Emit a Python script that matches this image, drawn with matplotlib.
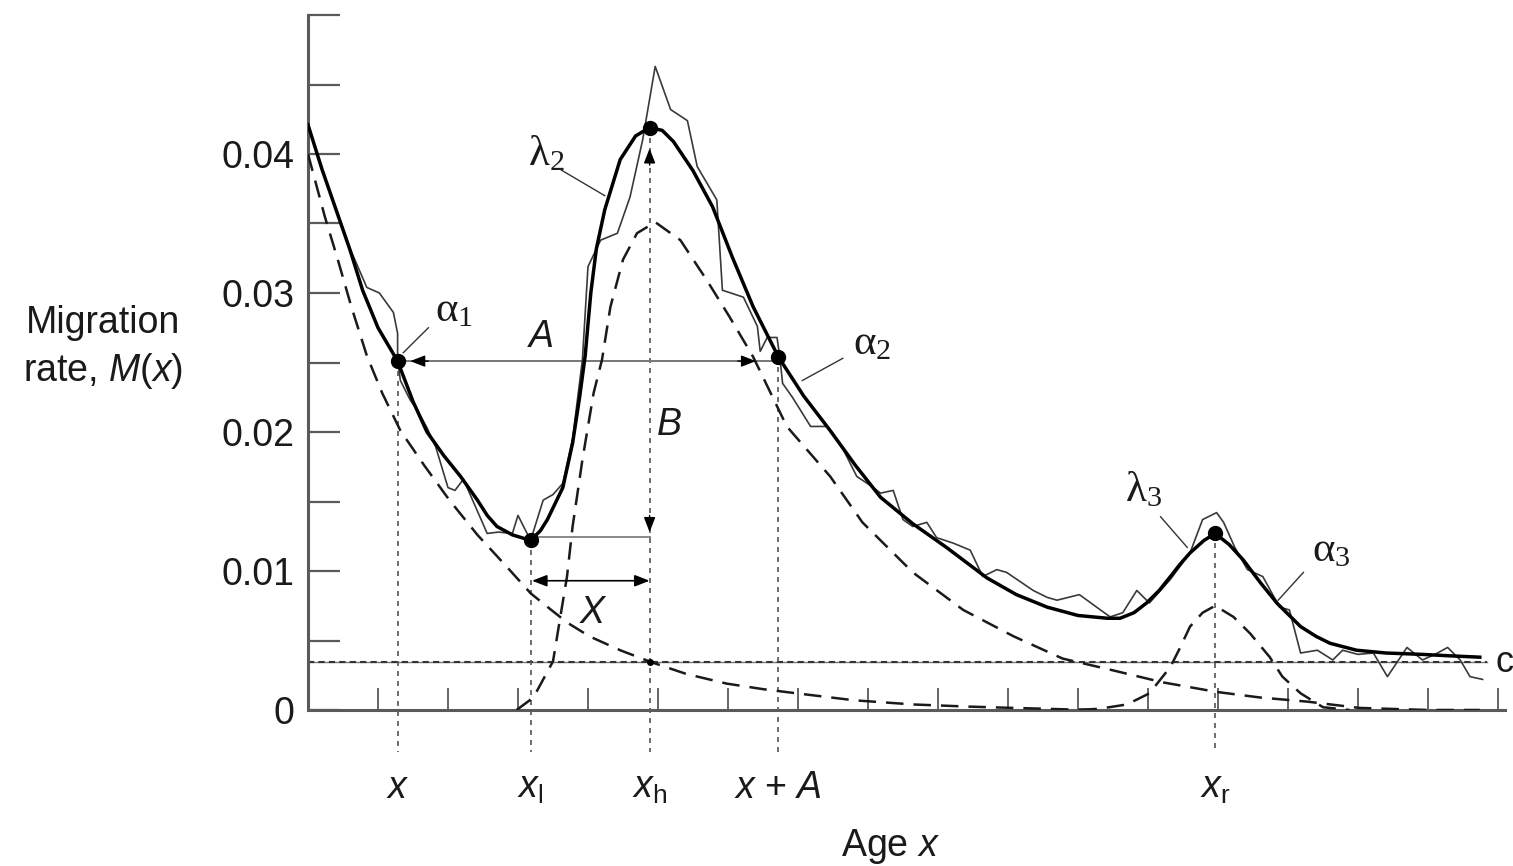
import matplotlib
matplotlib.use('Agg')
import matplotlib.pyplot as plt

plt.rcParams['font.family'] = 'Liberation Sans'
plt.rcParams['mathtext.fontset'] = 'custom'
plt.rcParams['mathtext.rm'] = 'Liberation Sans'
plt.rcParams['mathtext.it'] = 'Liberation Sans:italic'

# Fitted model schedule (thick solid line)
fit_age = [0, 1, 2, 3, 3.9, 5, 6.4, 7.5, 8.5, 9.7, 10.9, 12.1, 12.8, 13.5, 14.6,
           15.9, 16.6, 17.1, 18.2, 18.9, 19.4, 19.8, 20.2, 20.6, 21.2, 22.3, 23.4,
           24.4, 25.3, 26.1, 27.5, 28.9, 30.3, 31.8, 33.6, 35.4, 37.3, 39.1, 40.9,
           43.2, 45.6, 48.5, 50.6, 52.8, 55.0, 57.1, 58.0, 59.0, 59.9, 60.8, 61.6,
           62.3, 63.0, 64.0, 64.8, 65.8, 66.8, 68.0, 69.2, 70.9, 72.0, 73.0, 74.9,
           77.0, 79.6, 81.5, 83.7]
fit_rate = [0.0421, 0.0389, 0.0360, 0.0331, 0.0302, 0.0275, 0.0251, 0.0222, 0.0200,
            0.0183, 0.0168, 0.0151, 0.0140, 0.0132, 0.0126, 0.0122, 0.0129, 0.0137,
            0.0160, 0.0192, 0.0225, 0.0255, 0.0300, 0.0332, 0.0360, 0.0396, 0.0413,
            0.0419, 0.0417, 0.0409, 0.0388, 0.0362, 0.0326, 0.0290, 0.0254, 0.0226,
            0.0201, 0.0176, 0.0153, 0.0134, 0.0117, 0.0095, 0.0083, 0.0074, 0.0068,
            0.0066, 0.0066, 0.0070, 0.0077, 0.0086, 0.0096, 0.0105, 0.0113, 0.0122,
            0.0127, 0.0119, 0.0108, 0.0092, 0.0077, 0.0060, 0.0053, 0.0048, 0.0043,
            0.0041, 0.0040, 0.0039, 0.0038]

# Observed rates (thin jagged line)
obs_age = [0, 1, 2, 3, 4.2, 5.1, 6.1, 6.4, 6.4, 6.6, 7.3, 7.8, 8.5, 9.1, 10.0, 10.5,
           11.1, 11.8, 12.8, 13.6, 14.6, 15.0, 15.9, 16.8, 17.5, 18.2, 18.9, 19.6,
           20.0, 20.9, 22.1, 23.0, 23.9, 24.8, 25.9, 27.1, 27.8, 29.2, 29.6, 31.1,
           32.1, 32.3, 32.8, 33.5, 33.7, 33.9, 34.6, 35.9, 37.1, 38.2, 39.2, 40.1,
           40.9, 41.8, 42.5, 43.2, 44.2, 44.9, 46.1, 47.3, 48.2, 49.2, 49.9, 51.8,
           52.8, 53.5, 55.1, 56.6, 57.3, 58.2, 59.2, 60.1, 61.6, 63.0, 63.9, 64.9,
           65.4, 66.2, 67.1, 68.2, 69.4, 70.1, 70.9, 72.1, 73.2, 73.9, 75.0, 76.1,
           77.1, 78.5, 79.6, 80.5, 81.4, 82.3, 83.0, 83.9]
obs_rate = [0.0421, 0.0388, 0.0361, 0.0332, 0.0304, 0.0300, 0.0286, 0.0271, 0.0252,
            0.0237, 0.0223, 0.0216, 0.0203, 0.0190, 0.0160, 0.0158, 0.0166, 0.0150,
            0.0127, 0.0128, 0.0127, 0.0140, 0.0122, 0.0151, 0.0155, 0.0163, 0.0195,
            0.0252, 0.0319, 0.0338, 0.0343, 0.0369, 0.0410, 0.0463, 0.0432, 0.0424,
            0.0391, 0.0367, 0.0302, 0.0297, 0.0276, 0.0258, 0.0268, 0.0268, 0.0254,
            0.0235, 0.0225, 0.0204, 0.0204, 0.0188, 0.0168, 0.0162, 0.0156, 0.0158,
            0.0137, 0.0132, 0.0135, 0.0124, 0.0120, 0.0115, 0.0096, 0.0101, 0.0099,
            0.0086, 0.0081, 0.0079, 0.0083, 0.0072, 0.0067, 0.0070, 0.0086, 0.0077,
            0.0094, 0.0113, 0.0137, 0.0142, 0.0135, 0.0117, 0.0101, 0.0096, 0.0074,
            0.0072, 0.0041, 0.0043, 0.0036, 0.0043, 0.0040, 0.0041, 0.0024, 0.0045,
            0.0036, 0.0040, 0.0045, 0.0036, 0.0024, 0.0022]

# Components (dashed): pre-labour force, labour force, post-labour force
child_age = [0, 1.2, 2.1, 3.1, 4.2, 5.3, 6.6, 8.3, 10.1, 12.1, 14.2, 15.9, 17.0,
             18.5, 20.1, 22.3, 24.5, 27.0, 29.9, 32.5, 34.9, 39.0, 43.2, 47.0,
             50.4, 54.0, 56.6]
child_rate = [0.0400, 0.0355, 0.0325, 0.0290, 0.0255, 0.0228, 0.0201, 0.0176,
              0.0151, 0.0126, 0.0103, 0.0084, 0.0075, 0.0063, 0.0053, 0.0043,
              0.00345, 0.0026, 0.0019, 0.0015, 0.0012, 0.0007, 0.0004, 0.00025,
              0.00015, 0.00005, 0.0]

labour_age = [14.9, 16.1, 17.5, 18.5, 18.9, 19.6, 20.4, 21.0, 21.6, 22.5, 23.5,
              24.8, 26.6, 28.5, 30.1, 31.8, 34.2, 37.3, 39.6, 43.2, 46.8, 50.4,
              53.9, 57.3, 61.0, 64.9, 68.0, 71.4, 75.1, 80.0, 83.7]
labour_rate = [0.0, 0.0009, 0.0035, 0.0096, 0.0132, 0.0180, 0.0228, 0.0252,
               0.0290, 0.0324, 0.0343, 0.0351, 0.0338, 0.0309, 0.0283, 0.0254,
               0.0204, 0.0168, 0.0135, 0.0099, 0.0072, 0.0053, 0.0037, 0.0029,
               0.0020, 0.0013, 0.0009, 0.0006, 0.00015, 0.0, 0.0]

retire_age = [55.1, 56.6, 58.5, 60.1, 61.6, 62.3, 63.0, 63.9, 64.8, 66.1, 67.3,
              68.7, 69.6, 70.9, 72.5, 74.4]
retire_rate = [0.0, 0.0001, 0.0004, 0.0012, 0.0031, 0.0045, 0.0060, 0.0070,
               0.0075, 0.0067, 0.0055, 0.0038, 0.0024, 0.0012, 0.0002, 0.0]

c_level = 0.00345

# Marked points on the fitted curve
x_age, x_rate = 6.4, 0.0251
xl_age, xl_rate = 15.9, 0.0122
xh_age, xh_rate = 24.4, 0.0419
xa_age, xa_rate = 33.6, 0.0254
xr_age, xr_rate = 64.8, 0.0127

age_labels = [r'$x$', r'$x_{\mathregular{l}}$', r'$x_{\mathregular{h}}$', r'$x$ + $A$',
              r'$x_{\mathregular{r}}$']
age_label_pos = [x_age, xl_age, xh_age, xa_age, xr_age]

ytick_vals = [0, 0.01, 0.02, 0.03, 0.04, 0.05]
ytick_text = ['0', '0.01', '0.02', '0.03', '0.04', '']

ink = '#1a1a1a'
axis_grey = '#5a5a5a'

fig = plt.figure(figsize=(15.13, 8.66), dpi=100)
ax = fig.add_axes([308 / 1513, 156 / 866, 1197 / 1513, 695 / 866])
ax.set_xlim(0, 85.5)
ax.set_ylim(0, 0.05)

for side in ['top', 'right']:
    ax.spines[side].set_visible(False)
for side in ['left', 'bottom']:
    ax.spines[side].set_color(axis_grey)
    ax.spines[side].set_linewidth(2.2)

ax.set_yticks(ytick_vals)
ax.set_yticklabels(ytick_text)
ax.set_yticks([0.005, 0.015, 0.025, 0.035, 0.045], minor=True)
ax.tick_params(axis='y', which='both', direction='in', length=23, width=1.6,
               color=axis_grey, labelsize=27, pad=10, labelcolor=ink)
ax.set_xticks(range(5, 90, 5))
ax.set_xticklabels([])
ax.tick_params(axis='x', direction='in', length=16, width=1.3, color=axis_grey)

# constant level c
ax.plot([0, 84.2], [c_level, c_level], color='#777777', lw=1.0, zorder=2)
ax.plot([0, 84.2], [c_level, c_level], color='#333333', lw=1.5,
        ls=(0, (3, 2)), zorder=2)
ax.text(84.85, c_level, 'c', fontsize=26, va='center', ha='left', color=ink,
        clip_on=False)

# component curves
dash = (0, (7, 4))
ax.plot(child_age, child_rate, color=ink, lw=1.8, ls=dash, zorder=3)
ax.plot(labour_age, labour_rate, color=ink, lw=1.8, ls=dash, zorder=3)
ax.plot(retire_age, retire_rate, color=ink, lw=1.8, ls=dash, zorder=3)

# observed and fitted schedules
ax.plot(obs_age, obs_rate, color='#3a3a3a', lw=1.2, zorder=4)
ax.plot(fit_age, fit_rate, color='black', lw=2.5, zorder=5)

ax.plot([x_age, xl_age, xh_age, xa_age, xr_age],
        [x_rate, xl_rate, xh_rate, xa_rate, xr_rate],
        'o', color='black', ms=10, zorder=6)
ax.plot([xh_age], [c_level], 'o', color='black', ms=4, zorder=6)

# vertical guides down to the age labels
guide = dict(color='#555555', lw=1.2, ls=(0, (3, 3)), clip_on=False, zorder=2)
ax.plot([x_age, x_age], [x_rate, -0.003], **guide)
ax.plot([xl_age, xl_age], [xl_rate, -0.003], **guide)
ax.plot([xh_age, xh_age], [xh_rate, -0.003], **guide)
ax.plot([xa_age, xa_age], [xa_rate, -0.003], **guide)
ax.plot([xr_age, xr_age], [xr_rate, -0.003], **guide)

for lab, pos in zip(age_labels, age_label_pos):
    ax.text(pos, -0.0056, lab, fontsize=27, ha='center', va='center',
            color=ink, clip_on=False)


def head(tip, tail):
    ax.annotate('', xy=tip, xytext=tail,
                arrowprops=dict(arrowstyle='-|>,head_length=0.9,head_width=0.35',
                                color='black', lw=1.0, shrinkA=0, shrinkB=0),
                zorder=6)


# A: horizontal distance between the two alpha points
ax.plot([x_age, xa_age], [x_rate, x_rate], color='#777777', lw=1.4, zorder=2)
head((7.3, x_rate), (8.6, x_rate))
head((32.0, x_rate), (30.7, x_rate))
ax.text(16.7, 0.0268, 'A', fontsize=27, style='italic', ha='center',
        va='center', color=ink)

# B: jump between low point and high peak
ax.plot([xl_age, xh_age], [0.01245, 0.01245], color='#888888', lw=1.4, zorder=2)
head((xh_age, 0.0404), (xh_age, 0.0392))
head((xh_age, 0.0128), (xh_age, 0.0140))
ax.text(25.8, 0.0205, 'B', fontsize=27, style='italic', ha='center',
        va='center', color=ink)

# X: shift between low point and high peak
ax.annotate('', xy=(xl_age + 0.1, 0.0093), xytext=(xh_age, 0.0093),
            arrowprops=dict(arrowstyle='<|-|>,head_length=0.9,head_width=0.35',
                            color='black', lw=1.2, shrinkA=0, shrinkB=0),
            zorder=6)
ax.text(20.3, 0.0070, 'X', fontsize=27, style='italic', ha='center',
        va='center', color=ink)

# parameter labels with leader lines
def param(label, sub, pos, line_from, line_to):
    ax.text(pos[0], pos[1], r'$\mathregular{%s_{%s}}$' % (label, sub),
            fontsize=31, family='Liberation Serif', ha='center', va='center',
            color=ink)
    ax.plot([line_from[0], line_to[0]], [line_from[1], line_to[1]],
            color='#333333', lw=1.0, zorder=6)


param('α', '1', (10.4, 0.0287), (8.6, 0.0275), (6.8, 0.0257))
param('λ', '2', (17.0, 0.0400), (18.0, 0.0389), (21.2, 0.0370))
param('α', '2', (40.3, 0.0263), (38.2, 0.0253), (35.3, 0.0237))
param('λ', '3', (59.7, 0.0158), (60.9, 0.0139), (62.8, 0.0117))
param('α', '3', (73.1, 0.0114), (71.1, 0.0099), (69.3, 0.0079))

fig.text(103 / 1513, 1 - 348 / 866, 'Migration\nrate, $M$($x$)', fontsize=27,
         ha='center', va='center', multialignment='center', linespacing=1.35,
         color=ink)
fig.text(890 / 1513, 1 - 846 / 866, 'Age $x$', fontsize=27, ha='center',
         va='center', color=ink)

fig.savefig('out.png', dpi=100)
